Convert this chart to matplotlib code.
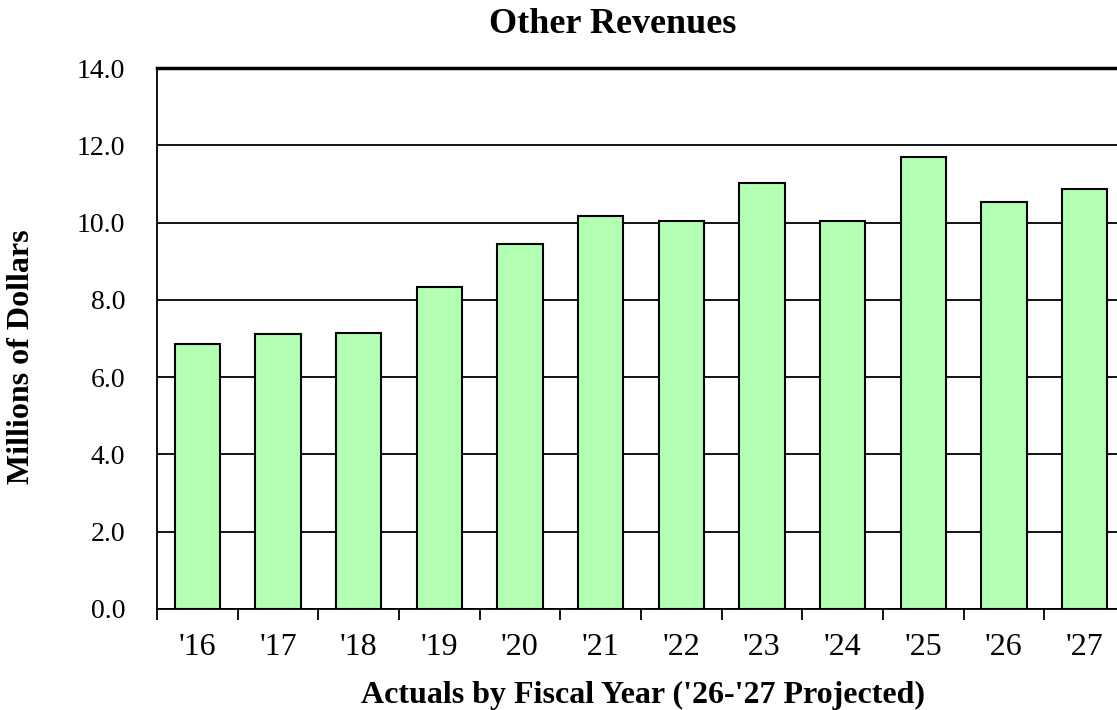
import matplotlib.pyplot as plt
import numpy as np

# Daten
years = ["'16", "'17", "'18", "'19", "'20", "'21", "'22", "'23", "'24", "'25", "'26", "'27"]
revenues = [6.86, 7.12, 7.14, 8.33, 9.45, 10.17, 10.04, 11.02, 10.05, 11.69, 10.52, 10.86]
y_ticks = np.arange(0, 14.1, 2)

plt.rcParams['font.family'] = ['Liberation Serif', 'DejaVu Serif']

W, H = 1117, 710
fig = plt.figure(figsize=(W / 100, H / 100), dpi=100)
ax = fig.add_axes([157 / W, 101 / H, 968 / W, 541 / H])

x = np.arange(len(years))
ax.set_axisbelow(True)
ax.yaxis.grid(True, color='black', linewidth=1.3)
ax.bar(x, revenues, width=0.56, color='#b3ffb3', edgecolor='black', linewidth=1.5, zorder=3)

ax.set_xlim(-0.5, len(years) - 0.5)
ax.set_ylim(0, 14)
ax.set_yticks(y_ticks)
ax.set_yticklabels([f'{v:.1f}' for v in y_ticks])

# Striche zwischen den Kategorien, Beschriftung in der Mitte
ax.set_xticks(np.arange(-0.5, len(years), 1))
ax.set_xticklabels([])
ax.set_xticks(x, minor=True)
ax.set_xticklabels(years, minor=True)
ax.tick_params(axis='x', which='major', direction='out', length=8, width=1.3)
ax.tick_params(axis='x', which='minor', length=0, pad=17, labelsize=23)
ax.tick_params(axis='y', length=0, pad=23, labelsize=20)

for side in ['left', 'bottom', 'right']:
    ax.spines[side].set_linewidth(1.3)
ax.spines['top'].set_linewidth(2.5)

# Titel und Achsenbeschriftungen
fig.text(613 / W, (H - 33) / H, 'Other Revenues', fontsize=26, fontweight='bold',
         ha='center', va='baseline')
fig.text(643 / W, 7 / H, "Actuals by Fiscal Year ('26-'27 Projected)", fontsize=23,
         fontweight='bold', ha='center', va='baseline')
fig.text(22 / W, (H - 357) / H, 'Millions of Dollars', fontsize=23, fontweight='bold',
         rotation=90, ha='center', va='center')

fig.savefig('out.png', dpi=100)
